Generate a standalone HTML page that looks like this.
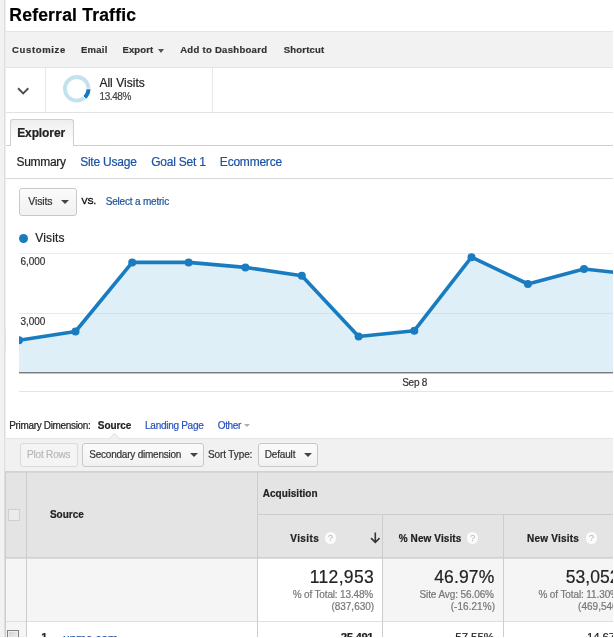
<!DOCTYPE html>
<html>
<head>
<meta charset="utf-8">
<title>Referral Traffic</title>
<style>
html,body{margin:0;padding:0;background:#fff;}
body{width:614px;height:638px;overflow:hidden;position:relative;font-family:"Liberation Sans",Arial,sans-serif;color:#222;}
.abs,.t{position:absolute;white-space:nowrap;}
.t{z-index:5;-webkit-text-stroke:0.2px currentColor;}
a{text-decoration:none;}
#leftstrip{left:0;top:0;width:4px;height:638px;background:#f2f2f2;}
#leftline{left:4px;top:0;width:1px;height:638px;background:#dedede;border-right:1px solid #ededed;}
#rightedge{left:613px;top:0;width:1px;height:638px;background:#fff;z-index:9;}
#bottomedge{left:0;top:637px;width:614px;height:1px;background:#fff;z-index:9;}
#toolbar{left:6px;top:31px;width:608px;height:37px;background:#f2f2f2;border-top:1px solid #e4e4e4;border-bottom:1px solid #e4e4e4;box-sizing:border-box;}
#segrow{left:6px;top:68px;width:608px;height:45px;border-bottom:1px solid #e2e2e2;box-sizing:border-box;}
.vdiv{top:0;width:1px;height:44px;background:#e8e8e8;}
#tabline{left:6px;top:145px;width:608px;height:1px;background:#cfcfcf;}
#tab{left:10px;top:119px;width:64px;height:27px;box-sizing:border-box;border:1px solid #cfcfcf;border-bottom:none;border-radius:3px 3px 0 0;background:linear-gradient(#eee,#fff 85%);}
#subline{left:6px;top:178px;width:608px;height:1px;background:#d9d9d9;}
.btn{box-sizing:border-box;border:1px solid #c8c8c8;border-radius:3px;background:linear-gradient(#fbfbfb,#f1f1f1);}
.caret{width:0;height:0;border-left:4px solid transparent;border-right:4px solid transparent;border-top:4px solid #444;}
.q{width:11.4px;height:11.4px;border-radius:50%;background:#fbfbfb;color:#b4b4b4;font-size:9.5px;font-weight:normal;line-height:11.6px;text-align:center;}
#t_title{left:9.35px;top:6.81px;font-size:17.5px;line-height:17.5px;font-weight:bold;color:#000;letter-spacing:0.208px;}
#t_cust{left:12.10px;top:44.91px;font-size:9.5px;line-height:9.5px;font-weight:bold;color:#333;letter-spacing:0.646px;}
#t_email{left:80.91px;top:44.91px;font-size:9.5px;line-height:9.5px;font-weight:bold;color:#333;letter-spacing:0.282px;}
#t_export{left:122.52px;top:44.91px;font-size:9.5px;line-height:9.5px;font-weight:bold;color:#333;letter-spacing:0.101px;}
#t_add{left:180.16px;top:44.91px;font-size:9.5px;line-height:9.5px;font-weight:bold;color:#333;letter-spacing:0.299px;}
#t_short{left:283.78px;top:44.91px;font-size:9.5px;line-height:9.5px;font-weight:bold;color:#333;letter-spacing:0.188px;}
#t_allv{left:99.40px;top:77.00px;font-size:12px;line-height:12px;font-weight:normal;color:#222;letter-spacing:0.030px;}
#t_pct{left:99.53px;top:91.50px;font-size:10px;line-height:10px;font-weight:normal;color:#444;letter-spacing:-0.423px;}
#t_expl{left:17.15px;top:127.32px;font-size:12px;line-height:12px;font-weight:bold;color:#222;letter-spacing:-0.096px;}
#t_summ{left:16.57px;top:156.21px;font-size:12px;line-height:12px;font-weight:normal;color:#222;letter-spacing:-0.336px;}
#t_site{left:80.13px;top:156.21px;font-size:12px;line-height:12px;font-weight:normal;color:#1c52a6;letter-spacing:-0.220px;}
#t_goal{left:151.13px;top:156.21px;font-size:12px;line-height:12px;font-weight:normal;color:#1c52a6;letter-spacing:-0.198px;}
#t_ecom{left:219.87px;top:156.21px;font-size:12px;line-height:12px;font-weight:normal;color:#1c52a6;letter-spacing:-0.224px;}
#t_vbtn{left:28.32px;top:196.01px;font-size:10.5px;line-height:10.5px;font-weight:normal;color:#333;letter-spacing:-0.157px;}
#t_vs{left:81.38px;top:197.21px;font-size:9px;line-height:9px;font-weight:normal;color:#111;letter-spacing:0.000px;}
#t_sel{left:105.72px;top:196.61px;font-size:10px;line-height:10px;font-weight:normal;color:#1d549c;letter-spacing:-0.194px;}
#t_leg{left:35.31px;top:232.41px;font-size:12px;line-height:12px;font-weight:normal;color:#222;letter-spacing:0.135px;}
#t_6000{left:20.40px;top:256.81px;font-size:10px;line-height:10px;font-weight:normal;color:#333;letter-spacing:-0.051px;}
#t_3000{left:20.51px;top:316.50px;font-size:10px;line-height:10px;font-weight:normal;color:#333;letter-spacing:-0.079px;}
#t_sep8{left:402.18px;top:377.50px;font-size:10px;line-height:10px;font-weight:normal;color:#333;letter-spacing:-0.252px;}
#t_prim{left:9.22px;top:421.20px;font-size:10px;line-height:10px;font-weight:normal;color:#222;letter-spacing:-0.331px;}
#t_src{left:97.81px;top:421.31px;font-size:10px;line-height:10px;font-weight:bold;color:#222;letter-spacing:-0.066px;}
#t_land{left:145.10px;top:421.20px;font-size:10px;line-height:10px;font-weight:normal;color:#2852c2;letter-spacing:-0.281px;}
#t_other{left:217.75px;top:421.20px;font-size:10px;line-height:10px;font-weight:normal;color:#2852c2;letter-spacing:-0.350px;}
#t_plot{left:26.93px;top:450.20px;font-size:10px;line-height:10px;font-weight:normal;color:#b8b8b8;letter-spacing:-0.165px;}
#t_sec{left:89.30px;top:450.20px;font-size:10px;line-height:10px;font-weight:normal;color:#333;letter-spacing:-0.225px;}
#t_sort{left:208.00px;top:450.20px;font-size:10px;line-height:10px;font-weight:normal;color:#333;letter-spacing:-0.114px;}
#t_def{left:264.71px;top:450.20px;font-size:10px;line-height:10px;font-weight:normal;color:#333;letter-spacing:-0.160px;}
#t_hsrc{left:49.95px;top:510.41px;font-size:10px;line-height:10px;font-weight:bold;color:#222;letter-spacing:0.009px;}
#t_acq{left:262.75px;top:488.81px;font-size:10px;line-height:10px;font-weight:bold;color:#222;letter-spacing:0.042px;}
#t_hvis{left:290.32px;top:534.00px;font-size:10px;line-height:10px;font-weight:bold;color:#222;letter-spacing:0.380px;}
#t_hpnv{left:398.69px;top:534.00px;font-size:10px;line-height:10px;font-weight:bold;color:#222;letter-spacing:0.102px;}
#t_hnv{left:526.93px;top:534.00px;font-size:10px;line-height:10px;font-weight:bold;color:#222;letter-spacing:0.241px;}
#t_n1{left:309.80px;top:568.91px;font-size:17.5px;line-height:17.5px;font-weight:normal;color:#222;letter-spacing:0.322px;}
#t_n1a{left:292.71px;top:589.50px;font-size:10px;line-height:10px;font-weight:normal;color:#777;letter-spacing:-0.158px;}
#t_n1b{left:331.38px;top:601.70px;font-size:10px;line-height:10px;font-weight:normal;color:#777;letter-spacing:-0.008px;}
#t_n2{left:434.20px;top:568.91px;font-size:17.5px;line-height:17.5px;font-weight:normal;color:#222;letter-spacing:0.131px;}
#t_n2a{left:419.46px;top:589.50px;font-size:10px;line-height:10px;font-weight:normal;color:#777;letter-spacing:-0.095px;}
#t_n2b{left:450.76px;top:601.70px;font-size:10px;line-height:10px;font-weight:normal;color:#777;letter-spacing:0.041px;}
#t_n3{left:565.82px;top:568.91px;font-size:17.5px;line-height:17.5px;font-weight:normal;color:#222;letter-spacing:0.008px;}
#t_n3a{left:538.40px;top:589.50px;font-size:10px;line-height:10px;font-weight:normal;color:#777;letter-spacing:-0.110px;}
#t_n3b{left:578.08px;top:601.70px;font-size:10px;line-height:10px;font-weight:normal;color:#777;letter-spacing:0.014px;}
#t_r1{left:41.26px;top:632.31px;font-size:11px;line-height:11px;font-weight:bold;color:#222;letter-spacing:0.000px;}
#t_r1a{left:63.07px;top:633.00px;font-size:12px;line-height:12px;font-weight:normal;color:#1c52a6;letter-spacing:-0.174px;}
#t_r1b{left:340.66px;top:632.21px;font-size:11.5px;line-height:11.5px;font-weight:bold;color:#222;letter-spacing:-0.414px;}
#t_r1c{left:455.35px;top:632.21px;font-size:11.5px;line-height:11.5px;font-weight:normal;color:#222;letter-spacing:-0.082px;}
#t_r1d{left:587.12px;top:632.21px;font-size:11.5px;line-height:11.5px;font-weight:normal;color:#222;letter-spacing:-0.187px;}
#t_vs{-webkit-text-stroke:0.45px currentColor;}
</style>
</head>
<body>
<div class="abs" id="leftstrip"></div>
<div class="abs" id="leftline"></div>
<div class="abs" id="rightedge"></div>
<div class="abs" id="bottomedge"></div>

<div class="abs" id="toolbar"></div>
<div class="abs caret" style="left:158px;top:48.5px;border-top-color:#555;border-left-width:3.5px;border-right-width:3.5px;border-top-width:4px"></div>

<div class="abs" id="segrow">
  <div class="abs vdiv" style="left:39px"></div>
  <div class="abs vdiv" style="left:206px"></div>
  <svg class="abs" style="left:11px;top:19px" width="12.4" height="8.3" viewBox="0 0 12 8"><path d="M1 1.2 L6 6.2 L11 1.2" fill="none" stroke="#4d4d4d" stroke-width="1.8"/></svg>
  <svg class="abs" style="left:54px;top:4px" width="34" height="34" viewBox="0 0 34 34">
    <circle cx="16.7" cy="16.8" r="11.8" fill="none" stroke="#c4e1f0" stroke-width="3.9"/>
    <path d="M28.5 16.8 A11.8 11.8 0 0 1 24.52 25.64" fill="none" stroke="#1579bd" stroke-width="3.9"/>
    <path d="M22.5 16.8 H31 M16.7 16.8 L26.2 27.55" stroke="#fff" stroke-width="0.9" fill="none"/>
  </svg>
</div>

<div class="abs" id="tabline"></div>
<div class="abs" id="tab"></div>
<div class="abs" id="subline"></div>

<div class="abs btn" style="left:19px;top:188px;width:58px;height:28px;"></div>
<div class="abs caret" style="left:61px;top:200px;"></div>

<div class="abs" style="left:18.6px;top:233.8px;width:9px;height:9px;border-radius:50%;background:#1a7cc0"></div>

<svg class="abs" style="left:0;top:245px" width="614" height="160" viewBox="0 245 614 160">
  <defs><clipPath id="fillclip"><polygon points="19,340.2 75.5,331.5 132.2,262.4 188.6,262.4 245.4,267.4 301.8,275.7 358.6,336.5 414.3,330.7 471.5,257.2 527.9,284 584,269 614,272.2 614,372 19,372"/></clipPath></defs>
  <line x1="19" y1="253.5" x2="614" y2="253.5" stroke="#ebebeb"/>
  <line x1="19" y1="313.5" x2="614" y2="313.5" stroke="#e9e9e9"/>
  <polygon points="19,340.2 75.5,331.5 132.2,262.4 188.6,262.4 245.4,267.4 301.8,275.7 358.6,336.5 414.3,330.7 471.5,257.2 527.9,284 584,269 614,272.2 614,372 19,372" fill="#deeff7"/>
  <line x1="19" y1="313.5" x2="614" y2="313.5" stroke="#d0e2ea" clip-path="url(#fillclip)"/>
  <polyline points="19,340.2 75.5,331.5 132.2,262.4 188.6,262.4 245.4,267.4 301.8,275.7 358.6,336.5 414.3,330.7 471.5,257.2 527.9,284 584,269 614,272.2" fill="none" stroke="#1a7cc0" stroke-width="3.6" stroke-linejoin="round"/>
  <g fill="#1a7cc0">
    <path d="M19 336.2 A4 4 0 0 1 19 344.2 Z"/><circle cx="75.5" cy="331.5" r="4"/><circle cx="132.2" cy="262.4" r="4"/><circle cx="188.6" cy="262.4" r="4"/><circle cx="245.4" cy="267.4" r="4"/><circle cx="301.8" cy="275.7" r="4"/><circle cx="358.6" cy="336.5" r="4"/><circle cx="414.3" cy="330.7" r="4"/><circle cx="471.5" cy="257.2" r="4"/><circle cx="527.9" cy="284" r="4"/><circle cx="584" cy="269" r="4"/>
  </g>
  <rect x="0" y="330" width="19" height="20" fill="#fff"/>
  <rect x="0" y="330" width="4" height="20" fill="#f2f2f2"/><rect x="4" y="330" width="2" height="20" fill="#e2e2e2"/>
  <rect x="19" y="372" width="595" height="1" fill="#7d7d7d"/>
  <rect x="19" y="373" width="595" height="1" fill="#c4c4c4"/>
  <line x1="19" y1="391.5" x2="614" y2="391.5" stroke="#e4e4e4"/>
</svg>

<div class="abs caret" style="left:243.5px;top:423.5px;border-top-color:#adadad;border-left-width:3.5px;border-right-width:3.5px;border-top-width:3.5px"></div>

<div class="abs" style="left:6px;top:438px;width:608px;height:33px;background:#f1f1f1;border-top:1px solid #e4e4e4;box-sizing:border-box"></div>
<svg class="abs" style="left:107px;top:432px" width="15" height="8" viewBox="0 0 15 8"><path d="M2.3 7 L7.4 1.4 L12.6 7 Z" fill="#f2f2f2"/><path d="M2.3 7 L7.4 1.4 L12.6 7" fill="none" stroke="#d9d9d9" stroke-width="0.9"/></svg>
<div class="abs btn" style="left:20px;top:443px;width:58px;height:24px;background:#f4f4f4;border-color:#dadada"></div>
<div class="abs btn" style="left:82px;top:443px;width:122px;height:24px;"></div>
<div class="abs caret" style="left:190px;top:452.5px;"></div>
<div class="abs btn" style="left:258px;top:443px;width:60px;height:24px;"></div>
<div class="abs caret" style="left:303.5px;top:452.5px;"></div>

<!-- table -->
<div class="abs" style="left:5px;top:471px;width:609px;height:87px;background:#e4e4e4;border-top:1px solid #d2d2d2;box-sizing:border-box;box-shadow:inset 0 1px 0 #d6d6d6"></div>
<div class="abs" style="left:5px;top:557px;width:609px;height:65px;background:#f5f5f5;border-top:1px solid #d0d0d0;border-bottom:1px solid #dfdfdf;box-sizing:border-box;box-shadow:inset 0 1px 0 #dcdcdc"></div>
<div class="abs" style="left:6px;top:622px;width:20px;height:16px;background:#f5f5f5"></div>
<div class="abs" style="left:258px;top:559px;width:124px;height:62px;background:#fff"></div>
<div class="abs" style="left:5px;top:472px;width:1px;height:166px;background:#cdcdcd"></div>
<div class="abs" style="left:26px;top:472px;width:1px;height:166px;background:#cdcdcd"></div>
<div class="abs" style="left:257px;top:472px;width:1px;height:166px;background:#cdcdcd"></div>
<div class="abs" style="left:382px;top:515px;width:1px;height:123px;background:#cdcdcd"></div>
<div class="abs" style="left:503px;top:515px;width:1px;height:123px;background:#cdcdcd"></div>
<div class="abs" style="left:258px;top:514px;width:356px;height:1px;background:#cdcdcd"></div>

<div class="abs" style="left:8px;top:509px;width:12px;height:12px;border:1px solid #cfcfcf;background:#ebebeb;box-sizing:border-box"></div>
<div class="abs q" style="left:324.8px;top:532.2px">?</div>
<div class="abs q" style="left:467px;top:532.2px">?</div>
<div class="abs q" style="left:585.6px;top:532.2px">?</div>
<svg class="abs" style="left:370px;top:531.6px" width="10.6" height="12.7" viewBox="0 0 10 12"><path d="M5 0.5 V9.5 M1 5.8 L5 9.8 L9 5.8" fill="none" stroke="#333" stroke-width="1.5"/></svg>

<div class="abs" style="left:7px;top:630px;width:12px;height:12px;border:1px solid #808080;background:linear-gradient(135deg,#c9d1da,#f4f4f4);box-sizing:border-box;box-shadow:inset 0 0 0 1px #f0f0f0;z-index:3"></div>

<div class="t" id="t_title">Referral Traffic</div>
<div class="t" id="t_cust">Customize</div>
<div class="t" id="t_email">Email</div>
<div class="t" id="t_export">Export</div>
<div class="t" id="t_add">Add to Dashboard</div>
<div class="t" id="t_short">Shortcut</div>
<div class="t" id="t_allv">All Visits</div>
<div class="t" id="t_pct">13.48%</div>
<div class="t" id="t_expl">Explorer</div>
<div class="t" id="t_summ">Summary</div>
<a class="t" id="t_site">Site Usage</a>
<a class="t" id="t_goal">Goal Set 1</a>
<a class="t" id="t_ecom">Ecommerce</a>
<div class="t" id="t_vbtn">Visits</div>
<div class="t" id="t_vs">VS.</div>
<a class="t" id="t_sel">Select a metric</a>
<div class="t" id="t_leg">Visits</div>
<div class="t" id="t_6000">6,000</div>
<div class="t" id="t_3000">3,000</div>
<div class="t" id="t_sep8">Sep 8</div>
<div class="t" id="t_prim">Primary Dimension:</div>
<div class="t" id="t_src">Source</div>
<a class="t" id="t_land">Landing Page</a>
<a class="t" id="t_other">Other</a>
<div class="t" id="t_plot">Plot Rows</div>
<div class="t" id="t_sec">Secondary dimension</div>
<div class="t" id="t_sort">Sort Type:</div>
<div class="t" id="t_def">Default</div>
<div class="t" id="t_hsrc">Source</div>
<div class="t" id="t_acq">Acquisition</div>
<div class="t" id="t_hvis">Visits</div>
<div class="t" id="t_hpnv">% New Visits</div>
<div class="t" id="t_hnv">New Visits</div>
<div class="t" id="t_n1">112,953</div>
<div class="t" id="t_n1a">% of Total: 13.48%</div>
<div class="t" id="t_n1b">(837,630)</div>
<div class="t" id="t_n2">46.97%</div>
<div class="t" id="t_n2a">Site Avg: 56.06%</div>
<div class="t" id="t_n2b">(-16.21%)</div>
<div class="t" id="t_n3">53,052</div>
<div class="t" id="t_n3a">% of Total: 11.30%</div>
<div class="t" id="t_n3b">(469,540)</div>
<div class="t" id="t_r1">1.</div>
<a class="t" id="t_r1a">unme.com</a>
<div class="t" id="t_r1b">25,491</div>
<div class="t" id="t_r1c">57.55%</div>
<div class="t" id="t_r1d">14,670</div>
</body>
</html>
